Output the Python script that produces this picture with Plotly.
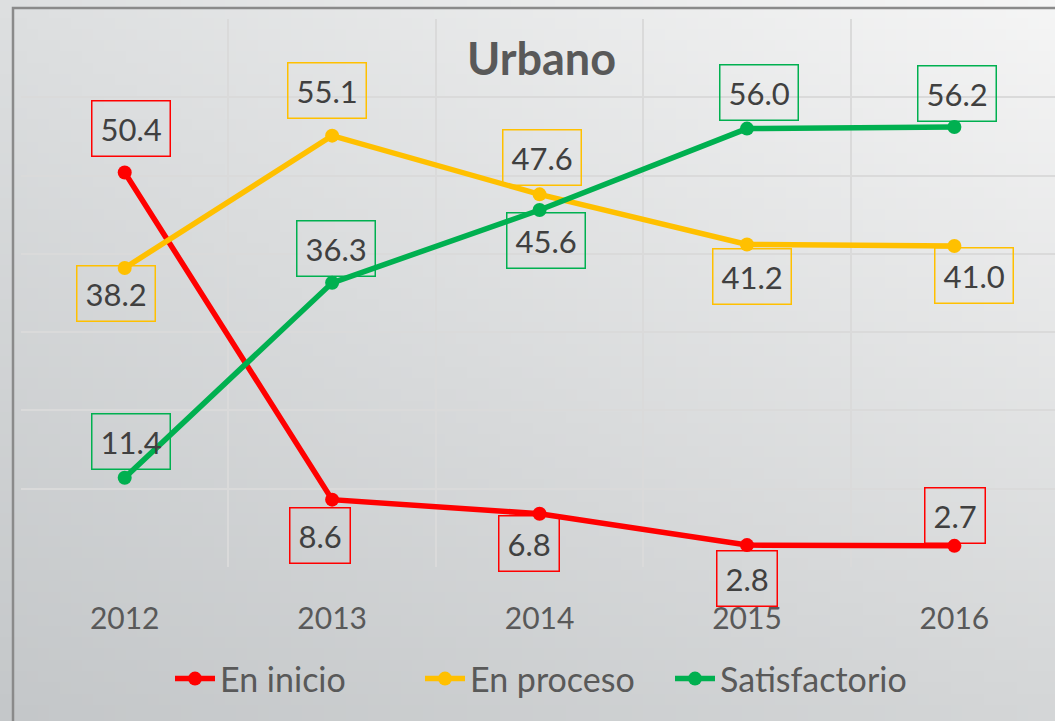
import base64, struct, zlib
import plotly.graph_objects as go

years = [2012, 2013, 2014, 2015, 2016]
en_inicio = [50.4, 8.6, 6.8, 2.8, 2.7]
en_proceso = [38.2, 55.1, 47.6, 41.2, 41.0]
satisfactorio = [11.4, 36.3, 45.6, 56.0, 56.2]
series_names = ["En inicio", "En proceso", "Satisfactorio"]
title_text = "Urbano"

colors = ["#ff0000", "#ffc000", "#00b050"]
# label box offsets (px) relative to the point: (xshift, yshift)
offsets = [
    [(6, 44), (-12, -36), (-11, -30), (0, -33), (1, 30)],
    [(-9, -26), (-5, 45), (2, 37), (5, -32), (20, -29)],
    [(6, 36), (4, 34), (6, -30), (12, 36), (3, 34)],
]

W, H = 1055, 721
L, R, T, B = 21, 0, 19, 154
pw, ph = W - L - R, H - T - B


def gradient_png(w, h, tl, tr, bl, br):
    raw = bytearray()
    for j in range(h):
        v = j / (h - 1)
        raw.append(0)
        for i in range(w):
            u = i / (w - 1)
            for c in range(3):
                top = tl[c] * (1 - u) + tr[c] * u
                bot = bl[c] * (1 - u) + br[c] * u
                raw.append(int(round(top * (1 - v) + bot * v)))

    def chunk(tag, data):
        return (struct.pack(">I", len(data)) + tag + data +
                struct.pack(">I", zlib.crc32(tag + data) & 0xffffffff))

    png = b"\x89PNG\r\n\x1a\n"
    png += chunk(b"IHDR", struct.pack(">IIBBBBB", w, h, 8, 2, 0, 0, 0))
    png += chunk(b"IDAT", zlib.compress(bytes(raw), 9))
    png += chunk(b"IEND", b"")
    return "data:image/png;base64," + base64.b64encode(png).decode()


bg = gradient_png(96, 64, (221, 223, 224), (245, 245, 245), (196, 199, 201), (212, 214, 215))

fig = go.Figure()
for name, vals, col in zip(series_names, [en_inicio, en_proceso, satisfactorio], colors):
    fig.add_trace(go.Scatter(
        x=years, y=vals, name=name, mode="lines+markers",
        line=dict(color=col, width=5.5), marker=dict(color=col, size=14),
        cliponaxis=False,
    ))

for vals, col, offs in zip([en_inicio, en_proceso, satisfactorio], colors, offsets):
    for x, v, (dx, dy) in zip(years, vals, offs):
        fig.add_annotation(
            x=x, y=v, text=f"{v:.1f}", showarrow=False,
            xshift=dx, yshift=dy,
            font=dict(family="Lato", size=31, color="#404040"),
            bordercolor=col, borderwidth=1.5, borderpad=8,
        )

fig.add_annotation(
    xref="paper", yref="paper", x=(541 - L) / pw, y=(H - B - 58) / ph,
    text="<b>" + title_text + "</b>", showarrow=False,
    font=dict(family="Lato", size=45, color="#595959"),
    xanchor="center", yanchor="middle",
)

fig.add_layout_image(
    source=bg, xref="paper", yref="paper",
    x=-L / pw, y=1 + T / ph, sizex=W / pw, sizey=H / ph,
    xanchor="left", yanchor="top", sizing="stretch", layer="below",
)

fig.add_shape(
    type="rect", xref="paper", yref="paper",
    x0=(13 - L) / pw, x1=(W + 10 - L) / pw,
    y0=-(B + 10) / ph, y1=1 + (T - 8) / ph,
    line=dict(color="#8a8a8a", width=2.5), layer="above",
)

grid = "#dadada"
fig.update_layout(
    width=W, height=H,
    margin=dict(l=L, r=R, t=T, b=B),
    paper_bgcolor="#e4e5e5", plot_bgcolor="rgba(0,0,0,0)",
    showlegend=True,
    legend=dict(
        orientation="h", x=(170 - L) / pw, xanchor="left",
        y=-(679 - (H - B)) / ph, yanchor="middle",
        font=dict(family="Lato", size=34, color="#595959"),
        bgcolor="rgba(0,0,0,0)", itemwidth=40,
        entrywidth=195,
    ),
    xaxis=dict(
        range=[2011.5, 2016.485], tickvals=years, ticktext=[str(y) for y in years],
        showgrid=False, zeroline=False, showline=False, ticks="",
        ticklabelstandoff=31,
        tickfont=dict(family="Lato", size=30, color="#595959"),
        minor=dict(tickvals=[2011.5, 2012.5, 2013.5, 2014.5, 2015.5, 2016.5],
                   showgrid=True, gridcolor=grid, gridwidth=2, ticks=""),
    ),
    yaxis=dict(
        range=[0, 70], dtick=10, showgrid=True, gridcolor=grid, gridwidth=2,
        zeroline=False, showline=False, showticklabels=False, ticks="",
    ),
)

fig.write_html(
    "out.html",
    config={"displayModeBar": False},
    post_script="document.body.style.margin='0';document.body.style.overflow='hidden';",
)
